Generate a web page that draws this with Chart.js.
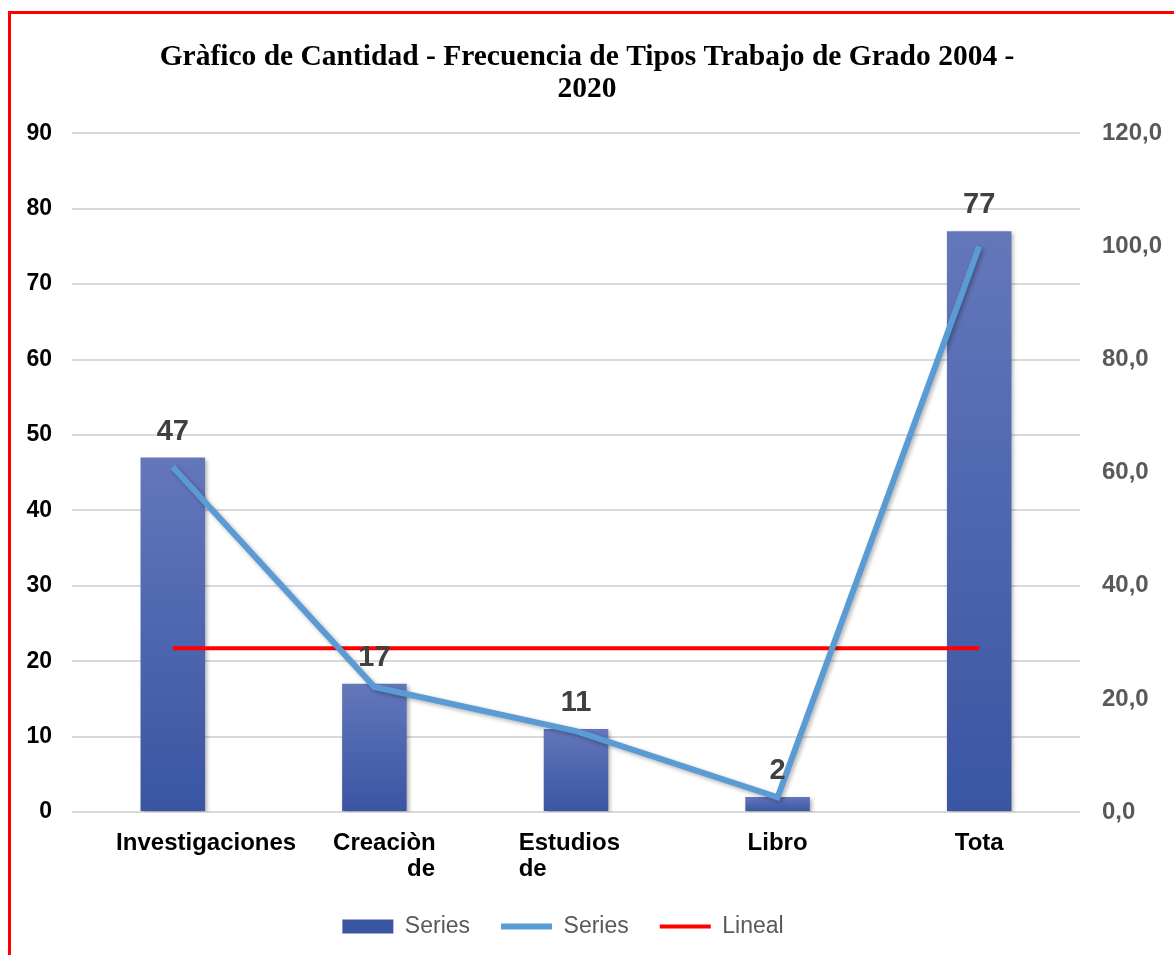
<!DOCTYPE html>
<html lang="es">
<head>
  <meta charset="UTF-8">
  <title>Gràfico de Cantidad - Frecuencia de Tipos Trabajo de Grado</title>
  <script src="https://cdn.jsdelivr.net/npm/chart.js"></script>
  <style>
    html, body {
      margin: 0;
      padding: 0;
      background: #fff;
      overflow: hidden;
    }
    #frame {
      position: absolute;
      left: 8px;
      top: 11px;
      width: 1300px;
      height: 1100px;
      border-left: 3px solid #ff0000;
      border-top: 3px solid #ff0000;
      pointer-events: none;
    }
    #wrap {
      position: absolute;
      left: 0;
      top: 0;
      width: 1174px;
      height: 955px;
    }
  </style>
</head>
<body>
  <div id="wrap"><canvas id="chart"></canvas></div>
  <div id="frame"></div>

  <script>
    // data
    const categories = ['Investigaciones', 'Creaciòn de', 'Estudios de', 'Libro', 'Tota'];
    // Excel wrapped/offset the category text; spaces keep that placement
    const tickLabels = [
      '          Investigaciones',
      ['   Creaciòn', '              de'],
      ['Estudios  ', 'de             '],
      'Libro',
      'Tota'
    ];
    const barValues = [47, 17, 11, 2, 77];
    const percentValues = [61.0, 22.1, 14.3, 2.6, 100.0];
    const linealValues = [21.7, 21.7, 21.7, 21.7, 21.7];

    const titleLines = ['Gràfico de Cantidad - Frecuencia de Tipos Trabajo de Grado 2004 -', '2020'];

    // per-bar vertical gradient like the Excel fill
    function barFill(context) {
      const chart = context.chart;
      const area = chart.chartArea;
      if (!area || context.type !== 'data') return '#4a63ad';
      const yScale = chart.scales.y;
      const top = yScale.getPixelForValue(barValues[context.dataIndex]);
      const g = chart.ctx.createLinearGradient(0, top, 0, area.bottom);
      g.addColorStop(0, '#6477b9');
      g.addColorStop(0.5, '#4d66b0');
      g.addColorStop(1, '#3a55a2');
      return g;
    }

    const shadowPlugin = {
      id: 'shadow',
      beforeDatasetDraw(chart, args) {
        const ctx = chart.ctx;
        ctx.save();
        if (args.index === 0 || args.index === 1) {
          ctx.shadowColor = 'rgba(0,0,0,0.30)';
          ctx.shadowBlur = 4;
          ctx.shadowOffsetX = 2;
          ctx.shadowOffsetY = 2;
        }
      },
      afterDatasetDraw(chart) {
        chart.ctx.restore();
      }
    };

    const barLabels = {
      id: 'barLabels',
      afterDatasetsDraw(chart) {
        const ctx = chart.ctx;
        const meta = chart.getDatasetMeta(0);
        ctx.save();
        ctx.font = 'bold 29px "Liberation Sans", Arial, sans-serif';
        ctx.fillStyle = '#404040';
        ctx.textAlign = 'center';
        ctx.textBaseline = 'alphabetic';
        meta.data.forEach((bar, i) => {
          ctx.fillText(String(barValues[i]), bar.x, bar.y - 18);
        });
        ctx.restore();
      }
    };

    // the Excel legend sits a little left of centre
    const legendShift = {
      id: 'legendShift',
      afterLayout(chart) {
        if (chart.legend) {
          chart.legend.left -= 24;
          chart.legend.right -= 24;
        }
      }
    };

    const ctx = document.getElementById('chart').getContext('2d');
    new Chart(ctx, {
      data: {
        labels: categories,
        datasets: [
          {
            type: 'bar',
            label: 'Series',
            data: barValues,
            backgroundColor: barFill,
            borderWidth: 0,
            categoryPercentage: 1,
            barPercentage: 0.32,
            yAxisID: 'y',
            order: 3,
            pointStyle: 'rect'
          },
          {
            type: 'line',
            label: 'Series',
            data: percentValues,
            borderColor: '#5b9bd5',
            backgroundColor: '#5b9bd5',
            borderWidth: 6,
            pointRadius: 0,
            tension: 0,
            yAxisID: 'y1',
            order: 1,
            pointStyle: 'line'
          },
          {
            type: 'line',
            label: 'Lineal',
            data: linealValues,
            borderColor: '#ff0000',
            backgroundColor: '#ff0000',
            borderWidth: 4,
            pointRadius: 0,
            yAxisID: 'y',
            order: 2,
            pointStyle: 'line'
          }
        ]
      },
      options: {
        responsive: true,
        maintainAspectRatio: false,
        animation: false,
        layout: { padding: { top: 0, left: 0, right: 0, bottom: 7 } },
        plugins: {
          title: {
            display: true,
            text: titleLines,
            color: '#000',
            font: { family: '"Liberation Serif", "Times New Roman", serif', size: 29.5, weight: 'bold', lineHeight: 1.09 },
            padding: { top: 41, bottom: 28 }
          },
          legend: {
            position: 'bottom',
            labels: {
              usePointStyle: true,
              pointStyleWidth: 51,
              boxHeight: 14,
              padding: 31,
              color: '#595959',
              font: { family: '"Liberation Sans", Arial, sans-serif', size: 23 },
              sort: (a, b) => a.datasetIndex - b.datasetIndex
            }
          },
          tooltip: { enabled: false }
        },
        scales: {
          x: {
            afterFit: s => { s.height = 72; },
            grid: { display: false },
            border: { display: false },
            ticks: {
              color: '#000',
              padding: 10,
              maxRotation: 0,
              autoSkip: false,
              font: { family: '"Liberation Sans", Arial, sans-serif', size: 24, weight: 'bold', lineHeight: 1.1 },
              callback: (v, i) => tickLabels[i]
            }
          },
          y: {
            position: 'left',
            min: 0,
            max: 90,
            afterFit: s => { s.width = 72; },
            grid: { color: '#d9d9d9', lineWidth: 2, drawTicks: false },
            border: { display: false },
            ticks: {
              stepSize: 10,
              padding: 20,
              color: '#000',
              font: { family: '"Liberation Sans", Arial, sans-serif', size: 23, weight: 'bold' }
            }
          },
          y1: {
            position: 'right',
            min: 0,
            max: 120,
            afterFit: s => { s.width = 94; },
            grid: { display: false, drawTicks: false },
            border: { display: false },
            ticks: {
              stepSize: 20,
              padding: 22,
              color: '#595959',
              font: { family: '"Liberation Sans", Arial, sans-serif', size: 24, weight: 'bold' },
              callback: v => v.toFixed(1).replace('.', ',')
            }
          }
        }
      },
      plugins: [shadowPlugin, barLabels, legendShift]
    });
  </script>
</body>
</html>
